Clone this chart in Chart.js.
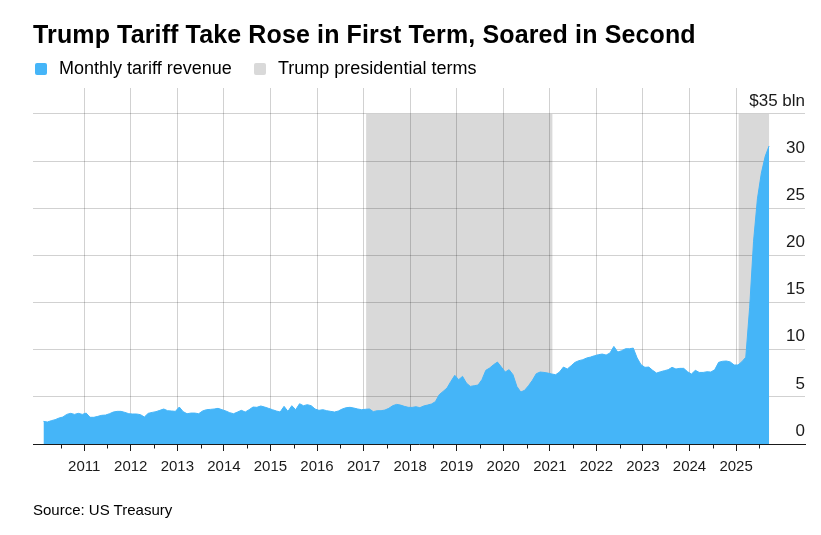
<!DOCTYPE html>
<html><head><meta charset="utf-8">
<script src="https://cdn.jsdelivr.net/npm/chart.js@4.4.1/dist/chart.umd.min.js"></script>
<style>
html,body{margin:0;padding:0;background:#fff;}
#wrap{position:relative;width:821px;height:535px;overflow:hidden;font-family:'Liberation Sans',Arial,sans-serif;color:#000;}
#c{position:absolute;left:0;top:0;}
#title{position:absolute;left:33px;top:22px;font-size:25px;line-height:25px;font-weight:bold;white-space:nowrap;letter-spacing:0.13px;}
.lt{position:absolute;top:59px;font-size:18px;line-height:18px;white-space:nowrap;}
.sw{position:absolute;top:63px;width:12px;height:12px;border-radius:2px;}
#src{position:absolute;left:33px;top:502px;font-size:15px;line-height:15px;white-space:nowrap;}
</style></head>
<body>
<div id="wrap">
<canvas id="c" width="821" height="535"></canvas>
<div id="title">Trump Tariff Take Rose in First Term, Soared in Second</div>
<div class="sw" style="left:35px;background:#45b5f8"></div>
<div class="lt" style="left:59px">Monthly tariff revenue</div>
<div class="sw" style="left:254px;background:#d9d9d9"></div>
<div class="lt" style="left:278px">Trump presidential terms</div>
<div id="src">Source: US Treasury</div>
</div>
<script>
// ---- data ----
const firstYear = 2010, firstMonth = 2; // Feb 2010, monthly
const revenue = [
 2.40,2.33,2.47,2.58,2.75,2.86,3.14,3.25,3.14,3.25,3.14,3.28,
 2.83,2.83,2.93,3.04,3.07,3.21,3.39,3.46,3.46,3.35,3.21,3.18,
 3.18,3.11,2.86,3.25,3.35,3.43,3.57,3.71,3.53,3.50,3.46,3.92,
 3.43,3.21,3.28,3.28,3.21,3.50,3.64,3.67,3.71,3.78,3.64,3.50,
 3.32,3.21,3.39,3.57,3.39,3.64,3.92,3.89,4.03,3.92,3.78,3.64,
 3.50,3.39,3.99,3.46,4.06,3.64,4.27,4.06,4.17,4.06,3.71,3.57,
 3.64,3.53,3.46,3.39,3.50,3.71,3.85,3.89,3.81,3.71,3.64,3.68,
 3.71,3.43,3.53,3.53,3.60,3.78,4.06,4.20,4.13,3.99,3.89,3.88,
 3.95,3.85,4.03,4.13,4.24,4.49,5.23,5.58,5.93,6.64,7.28,6.82,
 7.17,6.46,6.11,6.18,6.25,6.82,7.81,8.06,8.41,8.69,8.16,7.63,
 7.88,7.35,6.11,5.51,5.69,6.18,6.75,7.45,7.63,7.59,7.52,7.42,
 7.35,7.63,8.16,7.95,8.30,8.66,8.84,8.94,9.12,9.22,9.36,9.47,
 9.54,9.43,9.65,10.35,9.75,9.89,10.10,10.10,10.17,9.12,8.41,8.13,
 8.16,7.81,7.52,7.66,7.77,7.88,8.13,7.95,8.02,8.02,7.66,7.42,
 7.81,7.59,7.59,7.66,7.63,7.88,8.66,8.77,8.80,8.70,8.38,8.38,
 8.73,9.20,14.5,21.5,26.0,28.7,30.5,31.6
];
const termStarts = [2017.055, 2025.055];   // Jan 20 2017, Jan 20 2025
const termEnds   = [2021.055, null];       // null = through latest data
const yearTicks = [2011,2012,2013,2014,2015,2016,2017,2018,2019,2020,2021,2022,2023,2024,2025];
const yTicks = [0,5,10,15,20,25,30,35];
const yTopLabel = '$35 bln';

const BLUE = '#45b5f8', SHADE = '#d9d9d9', GRID = 'rgba(0,0,0,0.18)', INK = '#1a1a1a';

const points = revenue.map((v,i)=>({x: firstYear + (firstMonth-1+i+0.5)/12, y: v}));
const lastX = points[points.length-1].x;

const shadePlugin = {
  id:'shade',
  beforeDraw(chart){
    const {ctx, scales:{x,y}} = chart;
    ctx.save();
    ctx.fillStyle = SHADE;
    termStarts.forEach((s,i)=>{
      const e = termEnds[i] === null ? lastX : termEnds[i];
      const x0 = x.getPixelForValue(s), x1 = x.getPixelForValue(e);
      const y0 = y.getPixelForValue(35), y1 = y.getPixelForValue(0);
      ctx.fillRect(x0, y0, x1-x0, y1-y0);
    });
    ctx.restore();
  },
  afterDraw(chart){
    const {ctx, scales:{x,y}} = chart;
    ctx.save();
    ctx.strokeStyle = INK; ctx.lineWidth = 1;
    const yb = Math.round(y.getPixelForValue(0)) + 0.5;
    const half = [2010.5].concat(yearTicks.map(t=>t+0.5));
    half.forEach(v=>{
      const px = Math.round(x.getPixelForValue(v)) + 0.5;
      ctx.beginPath(); ctx.moveTo(px, yb); ctx.lineTo(px, yb+4); ctx.stroke();
    });
    ctx.restore();
  }
};

Chart.defaults.font.family = "'Liberation Sans', Arial, sans-serif";
Chart.defaults.color = INK;

new Chart(document.getElementById('c'), {
  type:'line',
  data:{ datasets:[{
    data: points, fill:'origin', backgroundColor: BLUE, borderColor: BLUE,
    borderWidth: 1, pointRadius: 0, tension: 0
  }]},
  options:{
    responsive:false, animation:false, events:[],
    layout:{ padding:{ left:33, right:16, top:88, bottom:59 } },
    plugins:{ legend:{display:false}, tooltip:{enabled:false} },
    scales:{
      x:{
        type:'linear', min:2009.9, max:2026.48,
        afterBuildTicks(s){ s.ticks = yearTicks.map(v=>({value:v})); },
        afterFit(s){ s.height = 32; },
        ticks:{ autoSkip:false, maxRotation:0, padding:7, font:{size:15}, color:INK,
                callback:(v)=>String(v) },
        grid:{ color:GRID, tickColor:INK, tickLength:7, lineWidth:1 },
        border:{ display:true, color:INK, width:1 }
      },
      y:{
        position:'right', min:0, max:37.75,
        afterBuildTicks(s){ s.ticks = yTicks.map(v=>({value:v})); },
        afterFit(s){ s.width = 0; },
        ticks:{ mirror:true, padding:0, labelOffset:-13, font:{size:17}, color:INK,
                callback:(v)=> v===35 ? yTopLabel : String(v) },
        grid:{ color:(c)=> c.tick && c.tick.value===0 ? 'rgba(0,0,0,0)' : GRID, drawTicks:false, lineWidth:1 },
        border:{ display:false }
      }
    }
  },
  plugins:[shadePlugin]
});
</script>
</body></html>
